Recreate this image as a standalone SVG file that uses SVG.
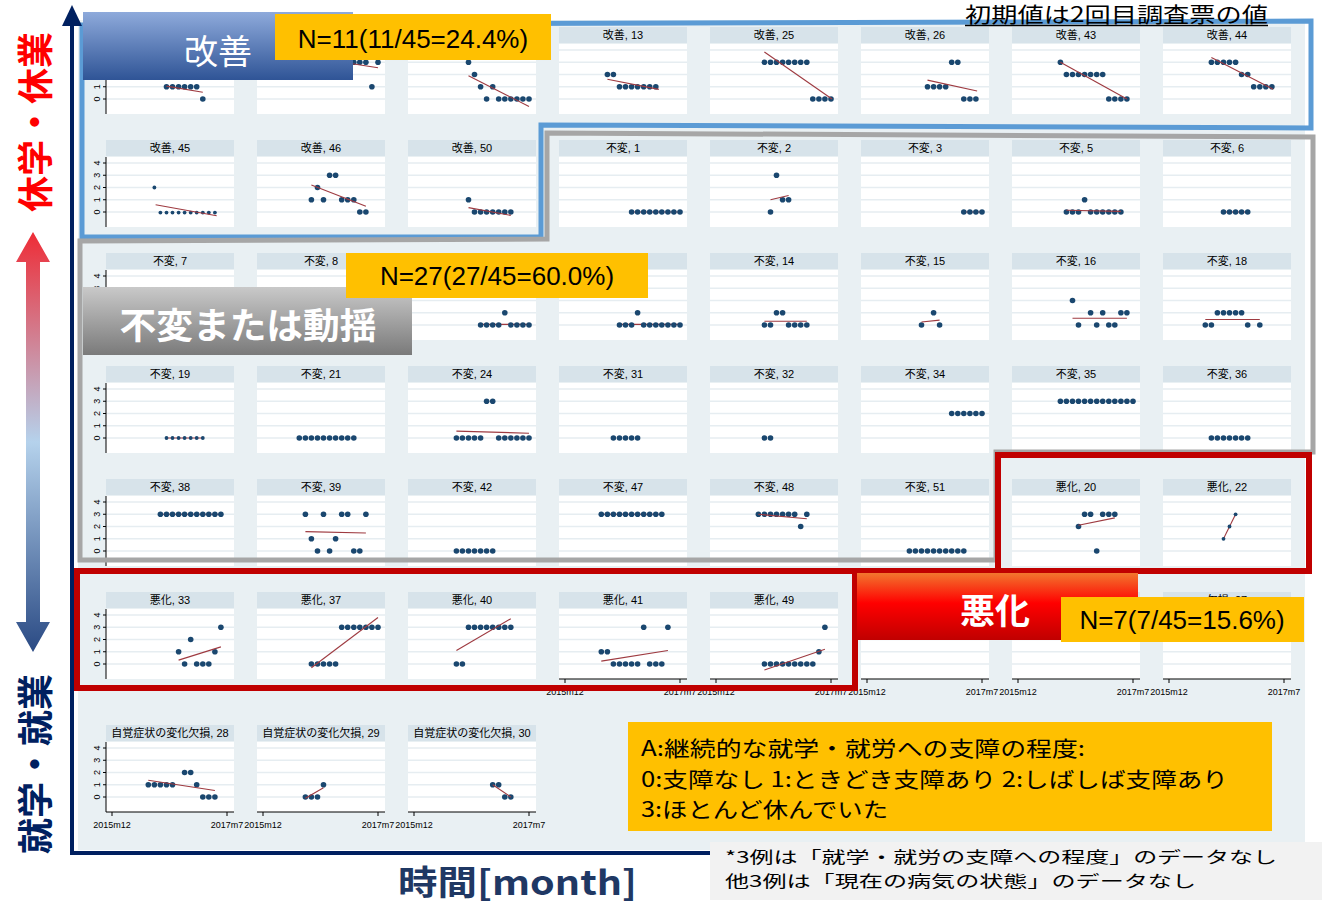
<svg xmlns="http://www.w3.org/2000/svg" xmlns:xlink="http://www.w3.org/1999/xlink" width="1322" height="905" viewBox="0 0 1322 905">
<style>
.hd{font-family:"Liberation Sans","Noto Sans CJK JP",sans-serif;font-size:11px;text-anchor:middle;fill:#000}
.tk{font-family:"Liberation Sans",sans-serif;font-size:9px;text-anchor:middle;fill:#000}
.d{fill:#1a476f}
.rl{stroke:#9e3a40;stroke-width:1.1}
.ax{stroke:#000;stroke-width:1;fill:none}
.nb{font-family:"Liberation Sans",sans-serif;font-size:26px;text-anchor:middle;fill:#000}
.jp{font-family:"Noto Sans CJK JP",sans-serif}
</style>
<defs>
<linearGradient id="gB" x1="0" y1="0" x2="0" y2="1"><stop offset="0" stop-color="#8eaadb"/><stop offset="1" stop-color="#2f5496"/></linearGradient>
<linearGradient id="gG" x1="0" y1="0" x2="0" y2="1"><stop offset="0" stop-color="#c9c9c9"/><stop offset="1" stop-color="#7a7a7a"/></linearGradient>
<linearGradient id="gR" x1="0" y1="0" x2="0" y2="1"><stop offset="0" stop-color="#f2762e"/><stop offset="0.45" stop-color="#ff0000"/><stop offset="1" stop-color="#c00000"/></linearGradient>
<linearGradient id="gA" gradientUnits="userSpaceOnUse" x1="0" y1="232" x2="0" y2="652"><stop offset="0" stop-color="#ee2c36"/><stop offset="0.5" stop-color="#b5d2ec"/><stop offset="1" stop-color="#2a4a84"/></linearGradient>
<g id="fr"><rect width="128" height="16" fill="#d7e3ea"/><rect y="17" width="128" height="70" fill="#fff"/><path d="M0 23H128M0 35.25H128M0 47.5H128M0 59.75H128M0 72H128" stroke="#e6edf1" stroke-width="1.5"/></g>
<g id="ya"><path class="ax" d="M0 17V87M-3 23H0M-3 35.25H0M-3 47.5H0M-3 59.75H0M-3 72H0"/>
<text class="tk" transform="translate(-6,72) rotate(-90)">0</text><text class="tk" transform="translate(-6,59.75) rotate(-90)">1</text><text class="tk" transform="translate(-6,47.5) rotate(-90)">2</text><text class="tk" transform="translate(-6,35.25) rotate(-90)">3</text><text class="tk" transform="translate(-6,23) rotate(-90)">4</text></g>
<g id="xa"><path class="ax" d="M0 87H128M6 87V91M121 87V91"/><text class="tk" x="6" y="103">2015m12</text><text class="tk" x="121" y="103">2017m7</text></g>
</defs>

<rect id="panel" x="78" y="20" width="1227" height="830" fill="#e9f0f3"/>

<g id="plots">
<!-- row 0 -->
<g id="p0-0" transform="translate(106,27)"><use href="#fr"/><use href="#ya"/>
<circle class="d" cx="60.5" cy="59.8" r="2.8"/><circle class="d" cx="66.5" cy="59.8" r="2.8"/><circle class="d" cx="72.6" cy="59.8" r="2.8"/><circle class="d" cx="78.6" cy="59.8" r="2.8"/><circle class="d" cx="84.7" cy="59.8" r="2.8"/><circle class="d" cx="90.7" cy="59.8" r="2.8"/><circle class="d" cx="96.8" cy="72" r="2.8"/>
<line class="rl" x1="60.5" y1="59.1" x2="96.8" y2="65.3"/></g>
<g id="p0-1" transform="translate(257,27)"><use href="#fr"/>
<circle class="d" cx="96.8" cy="35.3" r="2.8"/><circle class="d" cx="102.8" cy="35.3" r="2.8"/><circle class="d" cx="108.9" cy="35.3" r="2.8"/><circle class="d" cx="121" cy="35.3" r="2.8"/><circle class="d" cx="114.9" cy="59.8" r="2.8"/>
<line class="rl" x1="93.7" y1="36.5" x2="121" y2="40.8"/></g>
<g id="p0-2" transform="translate(408,27)"><use href="#fr"/>
<circle class="d" cx="60.5" cy="35.3" r="2.8"/><circle class="d" cx="66.5" cy="47.5" r="2.8"/><circle class="d" cx="72.6" cy="59.8" r="2.8"/><circle class="d" cx="78.6" cy="72" r="2.8"/><circle class="d" cx="84.7" cy="59.8" r="2.8"/><circle class="d" cx="90.7" cy="72" r="2.8"/><circle class="d" cx="96.8" cy="72" r="2.8"/><circle class="d" cx="102.8" cy="72" r="2.8"/><circle class="d" cx="108.9" cy="72" r="2.8"/><circle class="d" cx="114.9" cy="72" r="2.8"/><circle class="d" cx="121" cy="72" r="2.8"/>
<line class="rl" x1="60.5" y1="48.7" x2="121" y2="79.4"/></g>
<g id="p0-3" transform="translate(559,27)"><use href="#fr"/><text class="hd" x="64" y="12">改善, 13</text>
<circle class="d" cx="48.4" cy="47.5" r="2.8"/><circle class="d" cx="54.4" cy="47.5" r="2.8"/><circle class="d" cx="60.5" cy="59.8" r="2.8"/><circle class="d" cx="66.5" cy="59.8" r="2.8"/><circle class="d" cx="72.6" cy="59.8" r="2.8"/><circle class="d" cx="78.6" cy="59.8" r="2.8"/><circle class="d" cx="84.7" cy="59.8" r="2.8"/><circle class="d" cx="90.7" cy="59.8" r="2.8"/><circle class="d" cx="96.8" cy="59.8" r="2.8"/>
<line class="rl" x1="48.4" y1="52.2" x2="99.8" y2="62.4"/></g>
<g id="p0-4" transform="translate(710,27)"><use href="#fr"/><text class="hd" x="64" y="12">改善, 25</text>
<circle class="d" cx="54.4" cy="35.3" r="2.8"/><circle class="d" cx="60.5" cy="35.3" r="2.8"/><circle class="d" cx="66.5" cy="35.3" r="2.8"/><circle class="d" cx="72.6" cy="35.3" r="2.8"/><circle class="d" cx="78.6" cy="35.3" r="2.8"/><circle class="d" cx="84.7" cy="35.3" r="2.8"/><circle class="d" cx="90.7" cy="35.3" r="2.8"/><circle class="d" cx="96.8" cy="35.3" r="2.8"/><circle class="d" cx="102.8" cy="72" r="2.8"/><circle class="d" cx="108.9" cy="72" r="2.8"/><circle class="d" cx="114.9" cy="72" r="2.8"/><circle class="d" cx="121" cy="72" r="2.8"/>
<line class="rl" x1="54.4" y1="25" x2="122" y2="72"/></g>
<g id="p0-5" transform="translate(861,27)"><use href="#fr"/><text class="hd" x="64" y="12">改善, 26</text>
<circle class="d" cx="66.5" cy="59.8" r="2.8"/><circle class="d" cx="72.6" cy="59.8" r="2.8"/><circle class="d" cx="78.6" cy="59.8" r="2.8"/><circle class="d" cx="84.7" cy="59.8" r="2.8"/><circle class="d" cx="90.7" cy="35.3" r="2.8"/><circle class="d" cx="96.8" cy="35.3" r="2.8"/><circle class="d" cx="102.8" cy="72" r="2.8"/><circle class="d" cx="108.9" cy="72" r="2.8"/><circle class="d" cx="114.9" cy="72" r="2.8"/>
<line class="rl" x1="66.5" y1="53.1" x2="116.1" y2="64"/></g>
<g id="p0-6" transform="translate(1012,27)"><use href="#fr"/><text class="hd" x="64" y="12">改善, 43</text>
<circle class="d" cx="48.4" cy="35.3" r="2.8"/><circle class="d" cx="54.4" cy="47.5" r="2.8"/><circle class="d" cx="60.5" cy="47.5" r="2.8"/><circle class="d" cx="66.5" cy="47.5" r="2.8"/><circle class="d" cx="72.6" cy="47.5" r="2.8"/><circle class="d" cx="78.6" cy="47.5" r="2.8"/><circle class="d" cx="84.7" cy="47.5" r="2.8"/><circle class="d" cx="90.7" cy="47.5" r="2.8"/><circle class="d" cx="96.8" cy="72" r="2.8"/><circle class="d" cx="102.8" cy="72" r="2.8"/><circle class="d" cx="108.9" cy="72" r="2.8"/><circle class="d" cx="114.9" cy="72" r="2.8"/>
<line class="rl" x1="48.4" y1="35.3" x2="114.9" y2="72"/></g>
<g id="p0-7" transform="translate(1163,27)"><use href="#fr"/><text class="hd" x="64" y="12">改善, 44</text>
<circle class="d" cx="48.4" cy="35.3" r="2.8"/><circle class="d" cx="54.4" cy="35.3" r="2.8"/><circle class="d" cx="60.5" cy="35.3" r="2.8"/><circle class="d" cx="66.5" cy="35.3" r="2.8"/><circle class="d" cx="72.6" cy="35.3" r="2.8"/><circle class="d" cx="78.6" cy="47.5" r="2.8"/><circle class="d" cx="84.7" cy="47.5" r="2.8"/><circle class="d" cx="90.7" cy="59.8" r="2.8"/><circle class="d" cx="96.8" cy="59.8" r="2.8"/><circle class="d" cx="102.8" cy="59.8" r="2.8"/><circle class="d" cx="108.9" cy="59.8" r="2.8"/>
<line class="rl" x1="48.4" y1="30.4" x2="110.1" y2="62.2"/></g>

<!-- row 1 -->
<g id="p1-0" transform="translate(106,140)"><use href="#fr"/><use href="#ya"/><text class="hd" x="64" y="12">改善, 45</text>
<circle class="d" cx="48.4" cy="47.5" r="1.9"/><circle class="d" cx="54.4" cy="72.6" r="1.9"/><circle class="d" cx="60.5" cy="72.6" r="1.9"/><circle class="d" cx="66.5" cy="72.6" r="1.9"/><circle class="d" cx="72.6" cy="72.6" r="1.9"/><circle class="d" cx="78.6" cy="72.6" r="1.9"/><circle class="d" cx="84.7" cy="72.6" r="1.9"/><circle class="d" cx="90.7" cy="72.6" r="1.9"/><circle class="d" cx="96.8" cy="72.6" r="1.9"/><circle class="d" cx="102.8" cy="72.6" r="1.9"/><circle class="d" cx="108.9" cy="72.6" r="1.9"/>
<line class="rl" x1="49.6" y1="64.7" x2="110.7" y2="75.7"/></g>
<g id="p1-1" transform="translate(257,140)"><use href="#fr"/><text class="hd" x="64" y="12">改善, 46</text>
<circle class="d" cx="54.4" cy="59.8" r="2.8"/><circle class="d" cx="60.5" cy="47.5" r="2.8"/><circle class="d" cx="66.5" cy="59.8" r="2.8"/><circle class="d" cx="72.6" cy="35.3" r="2.8"/><circle class="d" cx="78.6" cy="35.3" r="2.8"/><circle class="d" cx="84.7" cy="59.8" r="2.8"/><circle class="d" cx="90.7" cy="59.8" r="2.8"/><circle class="d" cx="96.8" cy="59.8" r="2.8"/><circle class="d" cx="102.8" cy="72" r="2.8"/><circle class="d" cx="108.9" cy="72" r="2.8"/>
<line class="rl" x1="54.4" y1="45.1" x2="108.9" y2="66.2"/></g>
<g id="p1-2" transform="translate(408,140)"><use href="#fr"/><text class="hd" x="64" y="12">改善, 50</text>
<circle class="d" cx="60.5" cy="59.8" r="2.8"/><circle class="d" cx="66.5" cy="72" r="2.8"/><circle class="d" cx="72.6" cy="72" r="2.8"/><circle class="d" cx="78.6" cy="72" r="2.8"/><circle class="d" cx="84.7" cy="72" r="2.8"/><circle class="d" cx="90.7" cy="72" r="2.8"/><circle class="d" cx="96.8" cy="72" r="2.8"/><circle class="d" cx="102.8" cy="72" r="2.8"/>
<line class="rl" x1="60.5" y1="67.6" x2="102.8" y2="75.4"/></g>
<g id="p1-3" transform="translate(559,140)"><use href="#fr"/><text class="hd" x="64" y="12">不変, 1</text>
<line class="rl" x1="72.6" y1="72" x2="121" y2="72"/>
<circle class="d" cx="72.6" cy="72" r="2.8"/><circle class="d" cx="78.6" cy="72" r="2.8"/><circle class="d" cx="84.7" cy="72" r="2.8"/><circle class="d" cx="90.7" cy="72" r="2.8"/><circle class="d" cx="96.8" cy="72" r="2.8"/><circle class="d" cx="102.8" cy="72" r="2.8"/><circle class="d" cx="108.9" cy="72" r="2.8"/><circle class="d" cx="114.9" cy="72" r="2.8"/><circle class="d" cx="121" cy="72" r="2.8"/></g>
<g id="p1-4" transform="translate(710,140)"><use href="#fr"/><text class="hd" x="64" y="12">不変, 2</text>
<circle class="d" cx="60.5" cy="72" r="2.8"/><circle class="d" cx="66.5" cy="35.3" r="2.8"/><circle class="d" cx="72.6" cy="59.8" r="2.8"/><circle class="d" cx="78.6" cy="59.8" r="2.8"/>
<line class="rl" x1="60.5" y1="59.8" x2="78.6" y2="55.5"/></g>
<g id="p1-5" transform="translate(861,140)"><use href="#fr"/><text class="hd" x="64" y="12">不変, 3</text>
<line class="rl" x1="102.8" y1="72" x2="121" y2="72"/>
<circle class="d" cx="102.8" cy="72" r="2.8"/><circle class="d" cx="108.9" cy="72" r="2.8"/><circle class="d" cx="114.9" cy="72" r="2.8"/><circle class="d" cx="121" cy="72" r="2.8"/></g>
<g id="p1-6" transform="translate(1012,140)"><use href="#fr"/><text class="hd" x="64" y="12">不変, 5</text>
<circle class="d" cx="54.4" cy="72" r="2.8"/><circle class="d" cx="60.5" cy="72" r="2.8"/><circle class="d" cx="66.5" cy="72" r="2.8"/><circle class="d" cx="72.6" cy="59.8" r="2.8"/><circle class="d" cx="78.6" cy="72" r="2.8"/><circle class="d" cx="84.7" cy="72" r="2.8"/><circle class="d" cx="90.7" cy="72" r="2.8"/><circle class="d" cx="96.8" cy="72" r="2.8"/><circle class="d" cx="102.8" cy="72" r="2.8"/><circle class="d" cx="108.9" cy="72" r="2.8"/>
<line class="rl" x1="54.4" y1="70.2" x2="108.9" y2="71.4"/></g>
<g id="p1-7" transform="translate(1163,140)"><use href="#fr"/><text class="hd" x="64" y="12">不変, 6</text>
<line class="rl" x1="60.5" y1="72" x2="84.7" y2="72"/>
<circle class="d" cx="60.5" cy="72" r="2.8"/><circle class="d" cx="66.5" cy="72" r="2.8"/><circle class="d" cx="72.6" cy="72" r="2.8"/><circle class="d" cx="78.6" cy="72" r="2.8"/><circle class="d" cx="84.7" cy="72" r="2.8"/></g>

<!-- row 2 -->
<g id="p2-0" transform="translate(106,253)"><use href="#fr"/><use href="#ya"/><text class="hd" x="64" y="12">不変, 7</text></g>
<g id="p2-1" transform="translate(257,253)"><use href="#fr"/><text class="hd" x="64" y="12">不変, 8</text></g>
<g id="p2-2" transform="translate(408,253)"><use href="#fr"/>
<line class="rl" x1="72.6" y1="71.4" x2="121" y2="71.4"/>
<circle class="d" cx="72.6" cy="72" r="2.8"/><circle class="d" cx="78.6" cy="72" r="2.8"/><circle class="d" cx="84.7" cy="72" r="2.8"/><circle class="d" cx="90.7" cy="72" r="2.8"/><circle class="d" cx="96.8" cy="59.8" r="2.8"/><circle class="d" cx="102.8" cy="72" r="2.8"/><circle class="d" cx="108.9" cy="72" r="2.8"/><circle class="d" cx="114.9" cy="72" r="2.8"/><circle class="d" cx="121" cy="72" r="2.8"/></g>
<g id="p2-3" transform="translate(559,253)"><use href="#fr"/>
<line class="rl" x1="60.5" y1="71.4" x2="121" y2="71.4"/>
<circle class="d" cx="60.5" cy="72" r="2.8"/><circle class="d" cx="66.5" cy="72" r="2.8"/><circle class="d" cx="72.6" cy="72" r="2.8"/><circle class="d" cx="78.6" cy="59.8" r="2.8"/><circle class="d" cx="84.7" cy="72" r="2.8"/><circle class="d" cx="90.7" cy="72" r="2.8"/><circle class="d" cx="96.8" cy="72" r="2.8"/><circle class="d" cx="102.8" cy="72" r="2.8"/><circle class="d" cx="108.9" cy="72" r="2.8"/><circle class="d" cx="114.9" cy="72" r="2.8"/><circle class="d" cx="121" cy="72" r="2.8"/></g>
<g id="p2-4" transform="translate(710,253)"><use href="#fr"/><text class="hd" x="64" y="12">不変, 14</text>
<circle class="d" cx="54.4" cy="72" r="2.8"/><circle class="d" cx="60.5" cy="72" r="2.8"/><circle class="d" cx="66.5" cy="59.8" r="2.8"/><circle class="d" cx="72.6" cy="59.8" r="2.8"/><circle class="d" cx="78.6" cy="72" r="2.8"/><circle class="d" cx="84.7" cy="72" r="2.8"/><circle class="d" cx="90.7" cy="72" r="2.8"/><circle class="d" cx="96.8" cy="72" r="2.8"/>
<line class="rl" x1="54.4" y1="68.3" x2="96.8" y2="68.3"/></g>
<g id="p2-5" transform="translate(861,253)"><use href="#fr"/><text class="hd" x="64" y="12">不変, 15</text>
<circle class="d" cx="60.5" cy="72" r="2.8"/><circle class="d" cx="72.6" cy="59.8" r="2.8"/><circle class="d" cx="78.6" cy="72" r="2.8"/>
<line class="rl" x1="60.5" y1="69" x2="78.6" y2="67.1"/></g>
<g id="p2-6" transform="translate(1012,253)"><use href="#fr"/><text class="hd" x="64" y="12">不変, 16</text>
<circle class="d" cx="60.5" cy="47.5" r="2.8"/><circle class="d" cx="78.6" cy="59.8" r="2.8"/><circle class="d" cx="90.7" cy="59.8" r="2.8"/><circle class="d" cx="108.9" cy="59.8" r="2.8"/><circle class="d" cx="114.9" cy="59.8" r="2.8"/><circle class="d" cx="66.5" cy="72" r="2.8"/><circle class="d" cx="84.7" cy="72" r="2.8"/><circle class="d" cx="96.8" cy="72" r="2.8"/><circle class="d" cx="102.8" cy="72" r="2.8"/>
<line class="rl" x1="60.5" y1="65.3" x2="114.9" y2="65.3"/></g>
<g id="p2-7" transform="translate(1163,253)"><use href="#fr"/><text class="hd" x="64" y="12">不変, 18</text>
<circle class="d" cx="42.3" cy="72" r="2.8"/><circle class="d" cx="48.4" cy="72" r="2.8"/><circle class="d" cx="54.4" cy="59.8" r="2.8"/><circle class="d" cx="60.5" cy="59.8" r="2.8"/><circle class="d" cx="66.5" cy="59.8" r="2.8"/><circle class="d" cx="72.6" cy="59.8" r="2.8"/><circle class="d" cx="78.6" cy="59.8" r="2.8"/><circle class="d" cx="84.7" cy="72" r="2.8"/><circle class="d" cx="96.8" cy="72" r="2.8"/>
<line class="rl" x1="42.3" y1="66.5" x2="96.8" y2="66.5"/></g>

<!-- row 3 -->
<g id="p3-0" transform="translate(106,366)"><use href="#fr"/><use href="#ya"/><text class="hd" x="64" y="12">不変, 19</text>
<line class="rl" x1="60.5" y1="72" x2="96.8" y2="72"/>
<circle class="d" cx="60.5" cy="72" r="1.9"/><circle class="d" cx="66.5" cy="72" r="1.9"/><circle class="d" cx="72.6" cy="72" r="1.9"/><circle class="d" cx="78.6" cy="72" r="1.9"/><circle class="d" cx="84.7" cy="72" r="1.9"/><circle class="d" cx="90.7" cy="72" r="1.9"/><circle class="d" cx="96.8" cy="72" r="1.9"/></g>
<g id="p3-1" transform="translate(257,366)"><use href="#fr"/><text class="hd" x="64" y="12">不変, 21</text>
<circle class="d" cx="42.3" cy="72" r="2.8"/><circle class="d" cx="48.4" cy="72" r="2.8"/><circle class="d" cx="54.4" cy="72" r="2.8"/><circle class="d" cx="60.5" cy="72" r="2.8"/><circle class="d" cx="66.5" cy="72" r="2.8"/><circle class="d" cx="72.6" cy="72" r="2.8"/><circle class="d" cx="78.6" cy="72" r="2.8"/><circle class="d" cx="84.7" cy="72" r="2.8"/><circle class="d" cx="90.7" cy="72" r="2.8"/><circle class="d" cx="96.8" cy="72" r="2.8"/></g>
<g id="p3-2" transform="translate(408,366)"><use href="#fr"/><text class="hd" x="64" y="12">不変, 24</text>
<circle class="d" cx="48.4" cy="72" r="2.8"/><circle class="d" cx="54.4" cy="72" r="2.8"/><circle class="d" cx="60.5" cy="72" r="2.8"/><circle class="d" cx="66.5" cy="72" r="2.8"/><circle class="d" cx="72.6" cy="72" r="2.8"/><circle class="d" cx="78.6" cy="35.3" r="2.8"/><circle class="d" cx="84.7" cy="35.3" r="2.8"/><circle class="d" cx="90.7" cy="72" r="2.8"/><circle class="d" cx="96.8" cy="72" r="2.8"/><circle class="d" cx="102.8" cy="72" r="2.8"/><circle class="d" cx="108.9" cy="72" r="2.8"/><circle class="d" cx="114.9" cy="72" r="2.8"/><circle class="d" cx="121" cy="72" r="2.8"/>
<line class="rl" x1="48.4" y1="65.1" x2="121" y2="67.2"/></g>
<g id="p3-3" transform="translate(559,366)"><use href="#fr"/><text class="hd" x="64" y="12">不変, 31</text>
<circle class="d" cx="54.4" cy="72" r="2.8"/><circle class="d" cx="60.5" cy="72" r="2.8"/><circle class="d" cx="66.5" cy="72" r="2.8"/><circle class="d" cx="72.6" cy="72" r="2.8"/><circle class="d" cx="78.6" cy="72" r="2.8"/></g>
<g id="p3-4" transform="translate(710,366)"><use href="#fr"/><text class="hd" x="64" y="12">不変, 32</text>
<circle class="d" cx="54.4" cy="72" r="2.8"/><circle class="d" cx="60.5" cy="72" r="2.8"/></g>
<g id="p3-5" transform="translate(861,366)"><use href="#fr"/><text class="hd" x="64" y="12">不変, 34</text>
<circle class="d" cx="90.7" cy="47.5" r="2.8"/><circle class="d" cx="96.8" cy="47.5" r="2.8"/><circle class="d" cx="102.8" cy="47.5" r="2.8"/><circle class="d" cx="108.9" cy="47.5" r="2.8"/><circle class="d" cx="114.9" cy="47.5" r="2.8"/><circle class="d" cx="121" cy="47.5" r="2.8"/></g>
<g id="p3-6" transform="translate(1012,366)"><use href="#fr"/><text class="hd" x="64" y="12">不変, 35</text>
<circle class="d" cx="48.4" cy="35.3" r="2.8"/><circle class="d" cx="54.4" cy="35.3" r="2.8"/><circle class="d" cx="60.5" cy="35.3" r="2.8"/><circle class="d" cx="66.5" cy="35.3" r="2.8"/><circle class="d" cx="72.6" cy="35.3" r="2.8"/><circle class="d" cx="78.6" cy="35.3" r="2.8"/><circle class="d" cx="84.7" cy="35.3" r="2.8"/><circle class="d" cx="90.7" cy="35.3" r="2.8"/><circle class="d" cx="96.8" cy="35.3" r="2.8"/><circle class="d" cx="102.8" cy="35.3" r="2.8"/><circle class="d" cx="108.9" cy="35.3" r="2.8"/><circle class="d" cx="114.9" cy="35.3" r="2.8"/><circle class="d" cx="121" cy="35.3" r="2.8"/></g>
<g id="p3-7" transform="translate(1163,366)"><use href="#fr"/><text class="hd" x="64" y="12">不変, 36</text>
<circle class="d" cx="48.4" cy="72" r="2.8"/><circle class="d" cx="54.4" cy="72" r="2.8"/><circle class="d" cx="60.5" cy="72" r="2.8"/><circle class="d" cx="66.5" cy="72" r="2.8"/><circle class="d" cx="72.6" cy="72" r="2.8"/><circle class="d" cx="78.6" cy="72" r="2.8"/><circle class="d" cx="84.7" cy="72" r="2.8"/></g>

<!-- row 4 -->
<g id="p4-0" transform="translate(106,479)"><use href="#fr"/><use href="#ya"/><text class="hd" x="64" y="12">不変, 38</text>
<line class="rl" x1="54.4" y1="35.3" x2="114.9" y2="35.3"/>
<circle class="d" cx="54.4" cy="35.3" r="2.8"/><circle class="d" cx="60.5" cy="35.3" r="2.8"/><circle class="d" cx="66.5" cy="35.3" r="2.8"/><circle class="d" cx="72.6" cy="35.3" r="2.8"/><circle class="d" cx="78.6" cy="35.3" r="2.8"/><circle class="d" cx="84.7" cy="35.3" r="2.8"/><circle class="d" cx="90.7" cy="35.3" r="2.8"/><circle class="d" cx="96.8" cy="35.3" r="2.8"/><circle class="d" cx="102.8" cy="35.3" r="2.8"/><circle class="d" cx="108.9" cy="35.3" r="2.8"/><circle class="d" cx="114.9" cy="35.3" r="2.8"/></g>
<g id="p4-1" transform="translate(257,479)"><use href="#fr"/><text class="hd" x="64" y="12">不変, 39</text>
<circle class="d" cx="48.4" cy="35.3" r="2.8"/><circle class="d" cx="66.5" cy="35.3" r="2.8"/><circle class="d" cx="84.7" cy="35.3" r="2.8"/><circle class="d" cx="90.7" cy="35.3" r="2.8"/><circle class="d" cx="108.9" cy="35.3" r="2.8"/><circle class="d" cx="54.4" cy="59.8" r="2.8"/><circle class="d" cx="78.6" cy="59.8" r="2.8"/><circle class="d" cx="60.5" cy="72" r="2.8"/><circle class="d" cx="72.6" cy="72" r="2.8"/><circle class="d" cx="96.8" cy="72" r="2.8"/><circle class="d" cx="102.8" cy="72" r="2.8"/>
<line class="rl" x1="48.4" y1="52.6" x2="108.9" y2="54"/></g>
<g id="p4-2" transform="translate(408,479)"><use href="#fr"/><text class="hd" x="64" y="12">不変, 42</text>
<circle class="d" cx="48.4" cy="72" r="2.8"/><circle class="d" cx="54.4" cy="72" r="2.8"/><circle class="d" cx="60.5" cy="72" r="2.8"/><circle class="d" cx="66.5" cy="72" r="2.8"/><circle class="d" cx="72.6" cy="72" r="2.8"/><circle class="d" cx="78.6" cy="72" r="2.8"/><circle class="d" cx="84.7" cy="72" r="2.8"/></g>
<g id="p4-3" transform="translate(559,479)"><use href="#fr"/><text class="hd" x="64" y="12">不変, 47</text>
<line class="rl" x1="42.3" y1="35.3" x2="102.8" y2="35.3"/>
<circle class="d" cx="42.3" cy="35.3" r="2.8"/><circle class="d" cx="48.4" cy="35.3" r="2.8"/><circle class="d" cx="54.4" cy="35.3" r="2.8"/><circle class="d" cx="60.5" cy="35.3" r="2.8"/><circle class="d" cx="66.5" cy="35.3" r="2.8"/><circle class="d" cx="72.6" cy="35.3" r="2.8"/><circle class="d" cx="78.6" cy="35.3" r="2.8"/><circle class="d" cx="84.7" cy="35.3" r="2.8"/><circle class="d" cx="90.7" cy="35.3" r="2.8"/><circle class="d" cx="96.8" cy="35.3" r="2.8"/><circle class="d" cx="102.8" cy="35.3" r="2.8"/></g>
<g id="p4-4" transform="translate(710,479)"><use href="#fr"/><text class="hd" x="64" y="12">不変, 48</text>
<circle class="d" cx="48.4" cy="35.3" r="2.8"/><circle class="d" cx="54.4" cy="35.3" r="2.8"/><circle class="d" cx="60.5" cy="35.3" r="2.8"/><circle class="d" cx="66.5" cy="35.3" r="2.8"/><circle class="d" cx="72.6" cy="35.3" r="2.8"/><circle class="d" cx="78.6" cy="35.3" r="2.8"/><circle class="d" cx="84.7" cy="35.3" r="2.8"/><circle class="d" cx="90.7" cy="47.5" r="2.8"/><circle class="d" cx="96.8" cy="35.3" r="2.8"/>
<line class="rl" x1="48.4" y1="35.3" x2="96.8" y2="39.7"/></g>
<g id="p4-5" transform="translate(861,479)"><use href="#fr"/><text class="hd" x="64" y="12">不変, 51</text>
<circle class="d" cx="48.4" cy="72" r="2.8"/><circle class="d" cx="54.4" cy="72" r="2.8"/><circle class="d" cx="60.5" cy="72" r="2.8"/><circle class="d" cx="66.5" cy="72" r="2.8"/><circle class="d" cx="72.6" cy="72" r="2.8"/><circle class="d" cx="78.6" cy="72" r="2.8"/><circle class="d" cx="84.7" cy="72" r="2.8"/><circle class="d" cx="90.7" cy="72" r="2.8"/><circle class="d" cx="96.8" cy="72" r="2.8"/><circle class="d" cx="102.8" cy="72" r="2.8"/></g>
<g id="p4-6" transform="translate(1012,479)"><use href="#fr"/><text class="hd" x="64" y="12">悪化, 20</text>
<circle class="d" cx="66.5" cy="47.5" r="2.8"/><circle class="d" cx="72.6" cy="35.3" r="2.8"/><circle class="d" cx="78.6" cy="35.3" r="2.8"/><circle class="d" cx="84.7" cy="72" r="2.8"/><circle class="d" cx="90.7" cy="35.3" r="2.8"/><circle class="d" cx="96.8" cy="35.3" r="2.8"/><circle class="d" cx="102.8" cy="35.3" r="2.8"/>
<line class="rl" x1="66.5" y1="46.3" x2="102.8" y2="38.9"/></g>
<g id="p4-7" transform="translate(1163,479)"><use href="#fr"/><text class="hd" x="64" y="12">悪化, 22</text>
<line class="rl" x1="60.5" y1="59.8" x2="72.6" y2="35.3"/>
<circle class="d" cx="60.5" cy="59.8" r="1.9"/><circle class="d" cx="66.5" cy="47.5" r="1.9"/><circle class="d" cx="72.6" cy="35.3" r="1.9"/></g>

<!-- row 5 -->
<g id="p5-0" transform="translate(106,592)"><use href="#fr"/><use href="#ya"/><text class="hd" x="64" y="12">悪化, 33</text>
<circle class="d" cx="72.6" cy="59.8" r="2.8"/><circle class="d" cx="78.6" cy="72" r="2.8"/><circle class="d" cx="84.7" cy="47.5" r="2.8"/><circle class="d" cx="90.7" cy="72" r="2.8"/><circle class="d" cx="96.8" cy="72" r="2.8"/><circle class="d" cx="102.8" cy="72" r="2.8"/><circle class="d" cx="108.9" cy="59.8" r="2.8"/><circle class="d" cx="114.9" cy="35.3" r="2.8"/>
<line class="rl" x1="72.6" y1="68.1" x2="114.9" y2="54.9"/></g>
<g id="p5-1" transform="translate(257,592)"><use href="#fr"/><text class="hd" x="64" y="12">悪化, 37</text>
<circle class="d" cx="54.4" cy="72" r="2.8"/><circle class="d" cx="60.5" cy="72" r="2.8"/><circle class="d" cx="66.5" cy="72" r="2.8"/><circle class="d" cx="72.6" cy="72" r="2.8"/><circle class="d" cx="78.6" cy="72" r="2.8"/><circle class="d" cx="84.7" cy="35.3" r="2.8"/><circle class="d" cx="90.7" cy="35.3" r="2.8"/><circle class="d" cx="96.8" cy="35.3" r="2.8"/><circle class="d" cx="102.8" cy="35.3" r="2.8"/><circle class="d" cx="108.9" cy="35.3" r="2.8"/><circle class="d" cx="114.9" cy="35.3" r="2.8"/><circle class="d" cx="121" cy="35.3" r="2.8"/>
<line class="rl" x1="54.4" y1="75.7" x2="121" y2="25.5"/></g>
<g id="p5-2" transform="translate(408,592)"><use href="#fr"/><text class="hd" x="64" y="12">悪化, 40</text>
<circle class="d" cx="48.4" cy="72" r="2.8"/><circle class="d" cx="54.4" cy="72" r="2.8"/><circle class="d" cx="60.5" cy="35.3" r="2.8"/><circle class="d" cx="66.5" cy="35.3" r="2.8"/><circle class="d" cx="72.6" cy="35.3" r="2.8"/><circle class="d" cx="78.6" cy="35.3" r="2.8"/><circle class="d" cx="84.7" cy="35.3" r="2.8"/><circle class="d" cx="90.7" cy="35.3" r="2.8"/><circle class="d" cx="96.8" cy="35.3" r="2.8"/><circle class="d" cx="102.8" cy="35.3" r="2.8"/>
<line class="rl" x1="48.4" y1="58.5" x2="102.8" y2="26.7"/></g>
<g id="p5-3" transform="translate(559,592)"><use href="#fr"/><use href="#xa"/><text class="hd" x="64" y="12">悪化, 41</text>
<circle class="d" cx="42.3" cy="59.8" r="2.8"/><circle class="d" cx="48.4" cy="59.8" r="2.8"/><circle class="d" cx="54.4" cy="72" r="2.8"/><circle class="d" cx="60.5" cy="72" r="2.8"/><circle class="d" cx="66.5" cy="72" r="2.8"/><circle class="d" cx="72.6" cy="72" r="2.8"/><circle class="d" cx="78.6" cy="72" r="2.8"/><circle class="d" cx="84.7" cy="35.3" r="2.8"/><circle class="d" cx="90.7" cy="72" r="2.8"/><circle class="d" cx="96.8" cy="72" r="2.8"/><circle class="d" cx="102.8" cy="72" r="2.8"/><circle class="d" cx="108.9" cy="35.3" r="2.8"/>
<line class="rl" x1="42.3" y1="69.1" x2="108.9" y2="58.5"/></g>
<g id="p5-4" transform="translate(710,592)"><use href="#fr"/><use href="#xa"/><text class="hd" x="64" y="12">悪化, 49</text>
<circle class="d" cx="54.4" cy="72" r="2.8"/><circle class="d" cx="60.5" cy="72" r="2.8"/><circle class="d" cx="66.5" cy="72" r="2.8"/><circle class="d" cx="72.6" cy="72" r="2.8"/><circle class="d" cx="78.6" cy="72" r="2.8"/><circle class="d" cx="84.7" cy="72" r="2.8"/><circle class="d" cx="90.7" cy="72" r="2.8"/><circle class="d" cx="96.8" cy="72" r="2.8"/><circle class="d" cx="102.8" cy="72" r="2.8"/><circle class="d" cx="108.9" cy="59.8" r="2.8"/><circle class="d" cx="114.9" cy="35.3" r="2.8"/>
<line class="rl" x1="54.4" y1="78.1" x2="114.9" y2="57.3"/></g>
<g id="p5-5" transform="translate(861,592)"><use href="#fr"/><use href="#xa"/></g>
<g id="p5-6" transform="translate(1012,592)"><use href="#fr"/><use href="#xa"/></g>
<g id="p5-7" transform="translate(1163,592)"><use href="#fr"/><use href="#xa"/><text class="hd" x="64" y="12">欠損, 27</text></g>

<!-- row 6 -->
<g id="p6-0" transform="translate(106,725)"><use href="#fr"/><use href="#ya"/><use href="#xa"/><text class="hd" x="64" y="12">自覚症状の変化欠損, 28</text>
<circle class="d" cx="42.3" cy="59.8" r="2.8"/><circle class="d" cx="48.4" cy="59.8" r="2.8"/><circle class="d" cx="54.4" cy="59.8" r="2.8"/><circle class="d" cx="60.5" cy="59.8" r="2.8"/><circle class="d" cx="66.5" cy="59.8" r="2.8"/><circle class="d" cx="78.6" cy="47.5" r="2.8"/><circle class="d" cx="84.7" cy="47.5" r="2.8"/><circle class="d" cx="90.7" cy="59.8" r="2.8"/><circle class="d" cx="96.8" cy="72" r="2.8"/><circle class="d" cx="102.8" cy="72" r="2.8"/><circle class="d" cx="108.9" cy="72" r="2.8"/>
<line class="rl" x1="42.3" y1="55.3" x2="108.9" y2="65.5"/></g>
<g id="p6-1" transform="translate(257,725)"><use href="#fr"/><use href="#xa"/><text class="hd" x="64" y="12">自覚症状の変化欠損, 29</text>
<circle class="d" cx="48.4" cy="72" r="2.8"/><circle class="d" cx="54.4" cy="72" r="2.8"/><circle class="d" cx="60.5" cy="72" r="2.8"/><circle class="d" cx="66.5" cy="59.8" r="2.8"/>
<line class="rl" x1="48.4" y1="73.2" x2="66.5" y2="62.8"/></g>
<g id="p6-2" transform="translate(408,725)"><use href="#fr"/><use href="#xa"/><text class="hd" x="64" y="12">自覚症状の変化欠損, 30</text>
<circle class="d" cx="84.7" cy="59.8" r="2.8"/><circle class="d" cx="90.7" cy="59.8" r="2.8"/><circle class="d" cx="96.8" cy="72" r="2.8"/><circle class="d" cx="102.8" cy="72" r="2.8"/>
<line class="rl" x1="84.7" y1="59.8" x2="102.8" y2="72"/></g>
</g>

<g id="connectors" fill="none" stroke-linejoin="miter">
<path id="outline-kaizen" d="M82 25 L1311 21 L1311 128 L541 125 L541 237 L82 237 Z" stroke="#5b9bd5" stroke-width="5"/>
<path id="outline-fuhen" d="M547 133 L1313 137 L1313 452 L996 452 L996 560 L80 560 L80 241 L547 239 Z" stroke="#a6a6a6" stroke-width="5"/>
<path id="outline-akka" d="M998 571 V455 H1309 V571 H77 V688 H855 V571" stroke="#c00000" stroke-width="6"/>
</g>

<g id="label-kaizen">
<rect x="83" y="12" width="270" height="68" fill="url(#gB)"/>
<text class="jp" x="218" y="64" font-size="34" fill="#fff" text-anchor="middle">改善</text>
</g>
<g id="n-kaizen">
<rect x="275" y="14" width="276" height="46" fill="#ffc000"/>
<text class="nb" x="413" y="48">N=11(11/45=24.4%)</text>
</g>
<g id="label-fuhen">
<rect x="83" y="287" width="329" height="68" fill="url(#gG)"/>
<text class="jp" x="248" y="339" font-size="36" font-weight="700" fill="#fff" text-anchor="middle" textLength="257" lengthAdjust="spacingAndGlyphs">不変または動揺</text>
</g>
<g id="n-fuhen">
<rect x="346" y="253" width="302" height="45" fill="#ffc000"/>
<text class="nb" x="497" y="285">N=27(27/45=60.0%)</text>
</g>
<g id="label-akka">
<rect x="857" y="573" width="281" height="67" fill="url(#gR)"/>
<text class="jp" x="995" y="624" font-size="35" font-weight="700" fill="#fff" text-anchor="middle">悪化</text>
</g>
<g id="n-akka">
<rect x="1061" y="597" width="243" height="45" fill="#ffc000"/>
<text class="nb" x="1182" y="629">N=7(7/45=15.6%)</text>
</g>

<g id="title">
<text class="jp" x="965" y="22" font-size="21" fill="#000" textLength="303" lengthAdjust="spacingAndGlyphs">初期値は2回目調査票の値</text>
<line x1="965" y1="25.5" x2="1268" y2="25.5" stroke="#000" stroke-width="1.5"/>
</g>

<g id="legend">
<rect x="628" y="722" width="644" height="109" fill="#ffc000"/>
<text class="jp" x="641" y="756" font-size="21" fill="#000" textLength="444" lengthAdjust="spacingAndGlyphs">A:継続的な就学・就労への支障の程度:</text>
<text class="jp" x="641" y="787" font-size="21" fill="#000" textLength="587" lengthAdjust="spacingAndGlyphs">0:支障なし  1:ときどき支障あり  2:しばしば支障あり</text>
<text class="jp" x="641" y="817" font-size="21" fill="#000" textLength="247" lengthAdjust="spacingAndGlyphs">3:ほとんど休んでいた</text>
</g>

<g id="axis">
<path d="M72 22 V853 H712" fill="none" stroke="#002060" stroke-width="4"/>
<polygon points="62,26 72,5 82,26" fill="#002060"/>
</g>

<g id="note">
<rect x="710" y="842" width="612" height="58" fill="#f2f2f2"/>
<text class="jp" x="725" y="863" font-size="16" fill="#000" textLength="552" lengthAdjust="spacingAndGlyphs">*3例は「就学・就労の支障への程度」のデータなし</text>
<text class="jp" x="725" y="887" font-size="16" fill="#000" textLength="471" lengthAdjust="spacingAndGlyphs">他3例は「現在の病気の状態」のデータなし</text>
</g>

<g id="xlabel">
<text class="jp" x="398" y="895" font-size="34" font-weight="700" fill="#1f3864" textLength="239" lengthAdjust="spacingAndGlyphs">時間[month]</text>
</g>

<g id="side">
<path d="M33 232 L50 262 L40 262 L40 622 L50 622 L33 652 L16 622 L26 622 L26 262 L16 262 Z" fill="url(#gA)"/>
<text class="jp" transform="translate(33,122) rotate(-90)" font-size="36" font-weight="700" fill="#ff0000" text-anchor="middle" dominant-baseline="central">休学・休業</text>
<text class="jp" transform="translate(33,764) rotate(-90)" font-size="36" font-weight="700" fill="#002060" text-anchor="middle" dominant-baseline="central">就学・就業</text>
</g>
</svg>
